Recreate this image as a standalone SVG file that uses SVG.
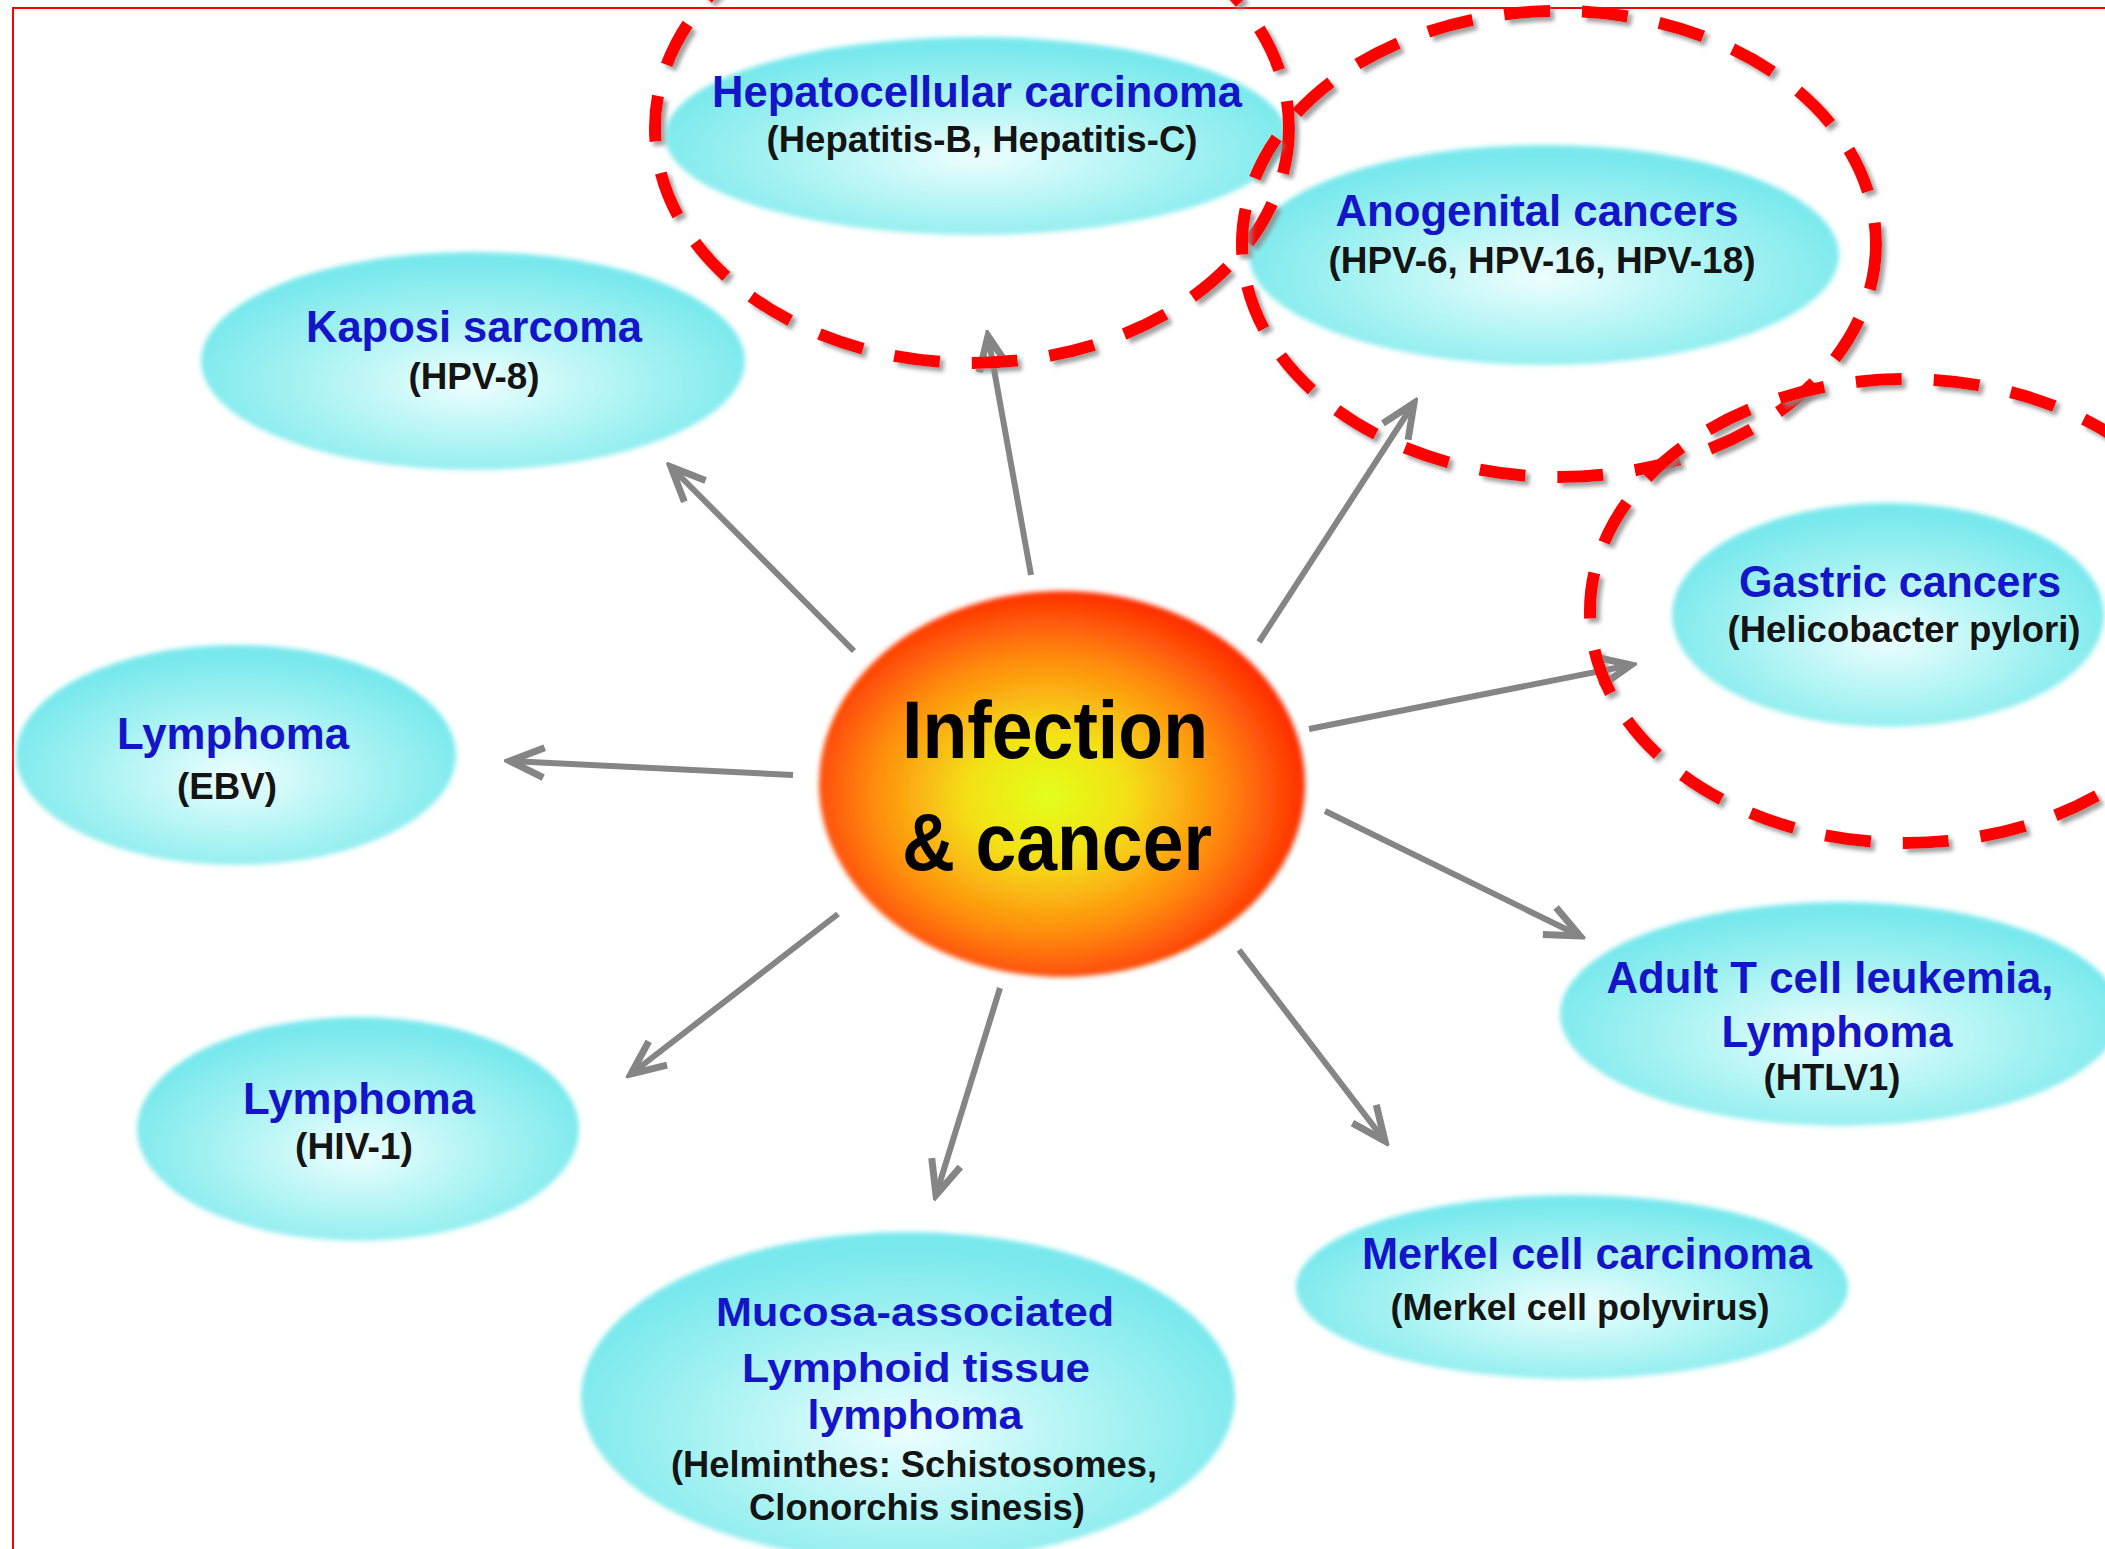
<svg xmlns="http://www.w3.org/2000/svg" width="2105" height="1549" viewBox="0 0 2105 1549">
<defs>
<radialGradient id="cyan" cx="50%" cy="60%" r="55%">
<stop offset="0" stop-color="#eefefe"/>
<stop offset="0.55" stop-color="#aaf3f3"/>
<stop offset="1" stop-color="#78e8ec"/>
</radialGradient>
<radialGradient id="sun" cx="47%" cy="53%" r="55%">
<stop offset="0" stop-color="#e2ff1c"/>
<stop offset="0.3" stop-color="#f4e014"/>
<stop offset="0.65" stop-color="#ff8c10"/>
<stop offset="1" stop-color="#ff2400"/>
</radialGradient>
<filter id="soft" x="-10%" y="-10%" width="120%" height="120%">
<feGaussianBlur stdDeviation="2.5"/>
</filter>
<filter id="shadow" x="-10%" y="-10%" width="120%" height="120%">
<feDropShadow dx="4" dy="4" stdDeviation="2" flood-color="#888888" flood-opacity="0.8"/>
</filter>
<marker id="head" markerUnits="userSpaceOnUse" viewBox="-42 -22 48 44" refX="0" refY="0" markerWidth="48" markerHeight="44" orient="auto">
<path d="M-34,-15 L0,0 L-34,15" fill="none" stroke="#858585" stroke-width="7" stroke-linejoin="miter"/>
</marker>
</defs>
<style>
.node{fill:url(#cyan);filter:url(#soft)}
.t{font-family:"Liberation Sans",Arial,sans-serif;font-weight:bold;font-size:44px;fill:#1414c8;text-anchor:middle}
.m{font-size:40px}
.s{font-family:"Liberation Sans",Arial,sans-serif;font-weight:bold;font-size:36px;fill:#141414;text-anchor:middle}
.c{font-family:"Liberation Sans",Arial,sans-serif;font-weight:bold;font-size:82px;fill:#000;text-anchor:middle}
.arr{stroke:#858585;stroke-width:6;fill:none;marker-end:url(#head)}
.hl{fill:none;stroke:#ff0000;stroke-width:12;stroke-dasharray:46 32;filter:url(#shadow)}
</style>
<rect width="2105" height="1549" fill="#ffffff"/>
<path d="M2105,8 H13 V1549" fill="none" stroke="#ff0000" stroke-width="2"/>

<g id="hepatocellular">
<ellipse class="node" cx="976" cy="136" rx="311" ry="99"/>
<text class="t" x="977" y="107" textLength="530" lengthAdjust="spacingAndGlyphs">Hepatocellular carcinoma</text>
<text class="s" x="982" y="152" textLength="431" lengthAdjust="spacingAndGlyphs">(Hepatitis-B, Hepatitis-C)</text>
</g>
<g id="kaposi">
<ellipse class="node" cx="473" cy="361" rx="272" ry="109"/>
<text class="t" x="474" y="342" textLength="336" lengthAdjust="spacingAndGlyphs">Kaposi sarcoma</text>
<text class="s" x="474" y="389" textLength="131" lengthAdjust="spacingAndGlyphs">(HPV-8)</text>
</g>
<g id="anogenital">
<ellipse class="node" cx="1544" cy="255" rx="295" ry="110"/>
<text class="t" x="1537" y="226" textLength="403" lengthAdjust="spacingAndGlyphs">Anogenital cancers</text>
<text class="s" x="1542" y="273" textLength="427" lengthAdjust="spacingAndGlyphs">(HPV-6, HPV-16, HPV-18)</text>
</g>
<g id="gastric">
<ellipse class="node" cx="1888" cy="615" rx="216" ry="112"/>
<text class="t" x="1900" y="597" textLength="322" lengthAdjust="spacingAndGlyphs">Gastric cancers</text>
<text class="s" x="1904" y="642" textLength="353" lengthAdjust="spacingAndGlyphs">(Helicobacter pylori)</text>
</g>
<g id="lymphoma-ebv">
<ellipse class="node" cx="236" cy="755" rx="220" ry="110"/>
<text class="t" x="233" y="749" textLength="232" lengthAdjust="spacingAndGlyphs">Lymphoma</text>
<text class="s" x="227" y="799" textLength="100" lengthAdjust="spacingAndGlyphs">(EBV)</text>
</g>
<g id="lymphoma-hiv">
<ellipse class="node" cx="358" cy="1129" rx="221" ry="112"/>
<text class="t" x="359" y="1114" textLength="232" lengthAdjust="spacingAndGlyphs">Lymphoma</text>
<text class="s" x="354" y="1159" textLength="118" lengthAdjust="spacingAndGlyphs">(HIV-1)</text>
</g>
<g id="malt">
<ellipse class="node" cx="908" cy="1397" rx="327" ry="165"/>
<text class="t m" x="915" y="1326" textLength="398" lengthAdjust="spacingAndGlyphs">Mucosa-associated</text>
<text class="t m" x="916" y="1382" textLength="348" lengthAdjust="spacingAndGlyphs">Lymphoid tissue</text>
<text class="t m" x="915" y="1429" textLength="215" lengthAdjust="spacingAndGlyphs">lymphoma</text>
<text class="s" x="914" y="1477" textLength="486" lengthAdjust="spacingAndGlyphs">(Helminthes: Schistosomes,</text>
<text class="s" x="917" y="1520" textLength="336" lengthAdjust="spacingAndGlyphs">Clonorchis sinesis)</text>
</g>
<g id="merkel">
<ellipse class="node" cx="1572" cy="1287" rx="276" ry="92"/>
<text class="t" x="1587" y="1269" textLength="450" lengthAdjust="spacingAndGlyphs">Merkel cell carcinoma</text>
<text class="s" x="1580" y="1320" textLength="379" lengthAdjust="spacingAndGlyphs">(Merkel cell polyvirus)</text>
</g>
<g id="atl">
<ellipse class="node" cx="1840" cy="1014" rx="280" ry="112"/>
<text class="t" x="1830" y="993" textLength="447" lengthAdjust="spacingAndGlyphs">Adult T cell leukemia,</text>
<text class="t" x="1837" y="1047" textLength="231" lengthAdjust="spacingAndGlyphs">Lymphoma</text>
<text class="s" x="1832" y="1090" textLength="137" lengthAdjust="spacingAndGlyphs">(HTLV1)</text>
</g>

<g id="connectors">
<line class="arr" x1="1031" y1="575" x2="988" y2="336"/>
<line class="arr" x1="854" y1="651" x2="671" y2="467"/>
<line class="arr" x1="1259" y1="642" x2="1414" y2="403"/>
<line class="arr" x1="1309" y1="729" x2="1631" y2="665"/>
<line class="arr" x1="793" y1="775" x2="510" y2="761"/>
<line class="arr" x1="1325" y1="811" x2="1580" y2="936"/>
<line class="arr" x1="838" y1="914" x2="631" y2="1074"/>
<line class="arr" x1="1000" y1="988" x2="936" y2="1195"/>
<line class="arr" x1="1239" y1="950" x2="1385" y2="1141"/>
</g>

<g id="center">
<ellipse cx="1062" cy="784" rx="243" ry="193" fill="url(#sun)" filter="url(#soft)"/>
<text class="c" x="1055" y="758" textLength="306" lengthAdjust="spacingAndGlyphs">Infection</text>
<text class="c" x="1057" y="870" textLength="310" lengthAdjust="spacingAndGlyphs">&amp; cancer</text>
</g>

<g id="highlights">
<ellipse class="hl" cx="972" cy="128" rx="317" ry="235"/>
<ellipse class="hl" cx="1559" cy="244" rx="317" ry="233"/>
<ellipse class="hl" cx="1906" cy="611" rx="316" ry="232"/>
</g>
</svg>
